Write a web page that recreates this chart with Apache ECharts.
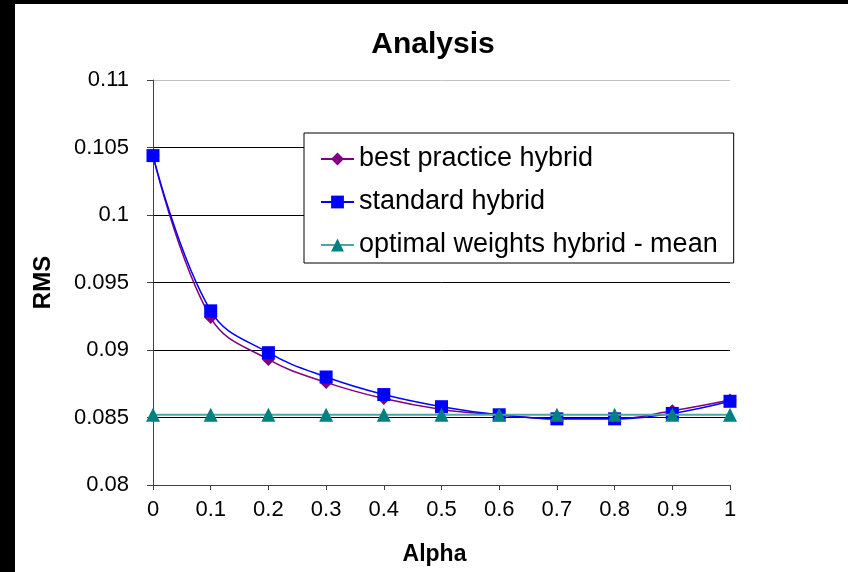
<!DOCTYPE html>
<html>
<head>
<meta charset="utf-8">
<script src="https://cdn.jsdelivr.net/npm/echarts@6/dist/echarts.min.js"></script>
<style>
html,body{margin:0;padding:0;background:#fff;}
#chart{width:848px;height:572px;}
</style>
</head>
<body>
<div id="chart"></div>
<script>
var alpha = [0, 0.1, 0.2, 0.3, 0.4, 0.5, 0.6, 0.7, 0.8, 0.9, 1];
var bestPractice = [0.1044, 0.0924, 0.0893, 0.0876, 0.0864, 0.0856, 0.0852, 0.0849, 0.0849, 0.0855, 0.0863];
var standard = [0.1044, 0.0929, 0.0898, 0.0880, 0.0867, 0.0858, 0.0852, 0.0849, 0.0849, 0.0853, 0.0862];
var optimalMean = [0.0852, 0.0852, 0.0852, 0.0852, 0.0852, 0.0852, 0.0852, 0.0852, 0.0852, 0.0852, 0.0852];
var xTickLabels = ['0', '0.1', '0.2', '0.3', '0.4', '0.5', '0.6', '0.7', '0.8', '0.9', '1'];
var yTickLabels = ['0.08', '0.085', '0.09', '0.095', '0.1', '0.105', '0.11'];
var seriesNames = ['best practice hybrid', 'standard hybrid', 'optimal weights hybrid - mean'];

var FONT = '"Liberation Sans", Arial, sans-serif';
function pairs(ys){ return alpha.map(function(x,i){ return [x, ys[i]]; }); }

var chart = echarts.init(document.getElementById('chart'), null, {renderer:'canvas'});
chart.setOption({
  animation: false,
  backgroundColor: '#fff',
  textStyle: {fontFamily: FONT},
  title: {
    text: 'Analysis',
    left: 428, top: 25, textAlign: 'center',
    textStyle: {fontFamily: FONT, fontSize: 30, fontWeight: 'bold', color: '#000'}
  },
  graphic: [
    {type:'rect', shape:{x:0,y:0,width:848,height:4}, style:{fill:'#000'}, z:100},
    {type:'rect', shape:{x:0,y:0,width:15,height:572}, style:{fill:'#000'}, z:100}
  ],
  grid: {left: 153, right: 118, top: 80, bottom: 87, containLabel: false},
  legend: {
    orient: 'vertical',
    left: 304, top: 133,
    padding: [11, 16, 3, 16],
    itemGap: 13,
    itemWidth: 33, itemHeight: 16,
    borderColor: '#000', borderWidth: 1,
    backgroundColor: '#fff',
    textStyle: {fontFamily: FONT, fontSize: 27, color: '#000', lineHeight: 30},
    data: seriesNames
  },
  xAxis: {
    type: 'value', min: 0, max: 1, interval: 0.1,
    name: 'Alpha', nameLocation: 'middle', nameGap: 58,
    nameTextStyle: {fontFamily: FONT, fontSize: 23, fontWeight: 'bold', color: '#000', padding: [0, 14, 0, 0]},
    axisLine: {show: true, lineStyle: {color: '#404040', width: 1}},
    axisTick: {show: true, length: 5, lineStyle: {color: '#404040'}},
    axisLabel: {fontFamily: FONT, fontSize: 22, color: '#000', margin: 14,
      formatter: function(v){ return xTickLabels[Math.round(v/0.1)]; }},
    splitLine: {show: false}
  },
  yAxis: {
    type: 'value', min: 0.08, max: 0.11, interval: 0.005,
    name: 'RMS', nameLocation: 'middle', nameGap: 98,
    nameTextStyle: {fontFamily: FONT, fontSize: 24, fontWeight: 'bold', color: '#000'},
    axisLine: {show: true, lineStyle: {color: '#404040', width: 1}},
    axisTick: {show: true, length: 6, lineStyle: {color: '#404040'}},
    axisLabel: {fontFamily: FONT, fontSize: 22, color: '#000', margin: 24,
      formatter: function(v){ return yTickLabels[Math.round((v-0.08)/0.005)]; }},
    splitLine: {show: true, lineStyle: {color: ['#404040','#000','#000','#000','#000','#000','#c0c0c0'], width: 1}}
  },
  series: [
    {
      name: seriesNames[0], type: 'line', data: pairs(bestPractice),
      smooth: 0.4, symbol: 'diamond', symbolSize: 13,
      lineStyle: {color: '#800080', width: 1.5},
      itemStyle: {color: '#800080'}, z: 2
    },
    {
      name: seriesNames[1], type: 'line', data: pairs(standard),
      smooth: 0.4, symbol: 'rect', symbolSize: 13,
      lineStyle: {color: '#0000ff', width: 1.5},
      itemStyle: {color: '#0000ff'}, z: 3
    },
    {
      name: seriesNames[2], type: 'line', data: pairs(optimalMean),
      smooth: 0.4, symbol: 'triangle', symbolSize: 14,
      lineStyle: {color: '#4da6a6', width: 2},
      itemStyle: {color: '#008080'}, z: 4
    }
  ]
});
</script>
</body>
</html>
